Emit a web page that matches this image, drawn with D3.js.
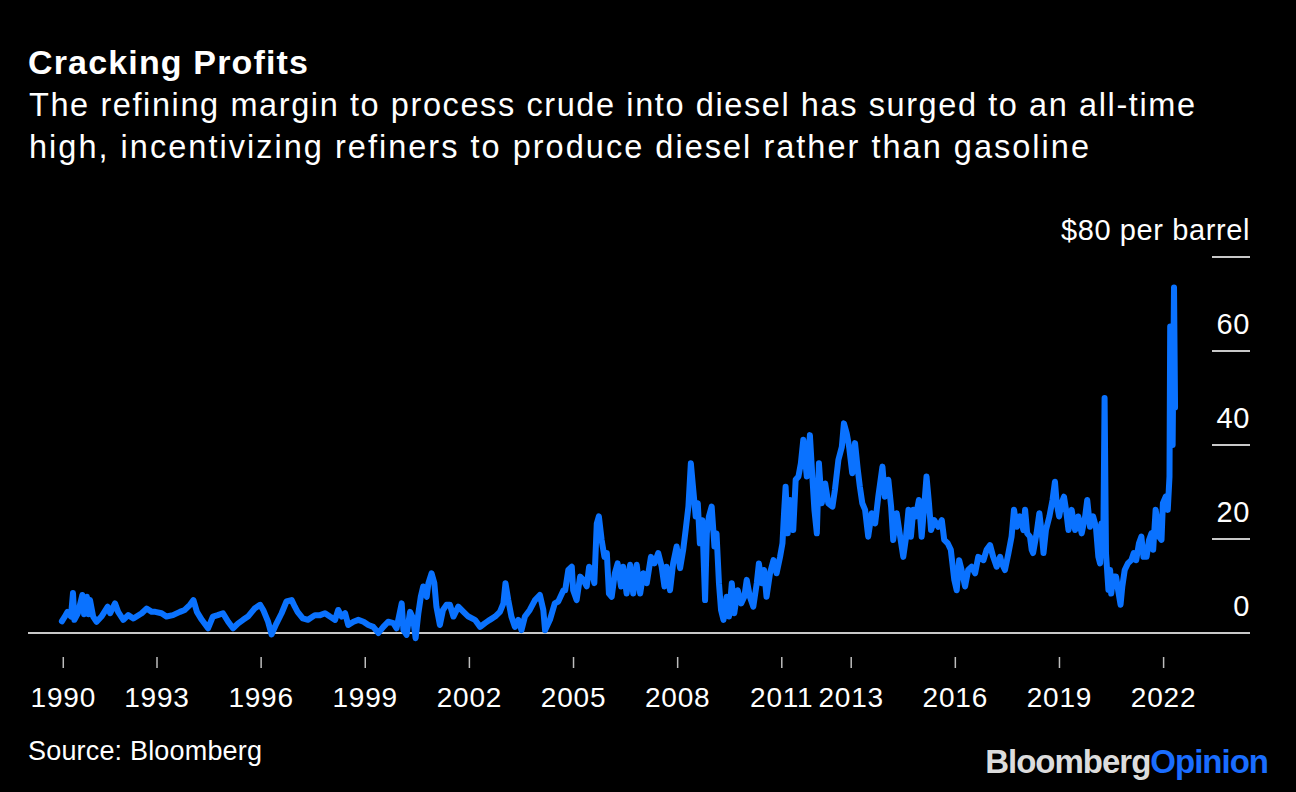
<!DOCTYPE html>
<html>
<head>
<meta charset="utf-8">
<script src="https://cdn.jsdelivr.net/npm/d3@7"></script>
<style>
  html, body { margin: 0; padding: 0; background: #000; }
  svg { display: block; }
  text { font-family: "Liberation Sans", Arial, Helvetica, sans-serif; fill: #fff; }
</style>
</head>
<body>
<svg id="chart" width="1296" height="792"></svg>
<script>
// ---- Data (decimal year, $ per barrel) ----
const t1990s = [1990.26,1990.33,1990.42,1990.52,1990.58,1990.62,1990.72,1990.85,1990.90,1990.98,1991.03,1991.07,1991.16,1991.26,1991.40,1991.58,1991.65,1991.79,1991.88,1992.03,1992.17,1992.32,1992.56,1992.70,1992.85,1992.95,1993.13,1993.27,1993.46,1993.66,1993.80,1993.95,1994.05,1994.15,1994.29,1994.47,1994.61,1994.75,1994.90,1995.05,1995.19,1995.33,1995.48,1995.62,1995.81,1995.97,1996.06,1996.20,1996.30,1996.44,1996.59,1996.73,1996.88,1996.97,1997.05,1997.20,1997.35,1997.55,1997.70,1997.84,1997.98,1998.13,1998.22,1998.32,1998.42,1998.51,1998.66,1998.80,1998.95,1999.09,1999.23,1999.38,1999.52,1999.66,1999.81,1999.90];
const v1990s = [2.5,3.3,4.5,3.5,8.5,2.8,4.2,8.1,4.0,7.7,4.0,7.0,3.5,2.4,3.5,5.6,4.2,6.3,4.5,2.8,3.8,3.1,4.2,5.2,4.5,4.5,4.2,3.5,3.8,4.5,4.9,6.0,7.0,4.5,2.8,1.0,3.5,3.8,4.2,2.4,1.0,2.0,2.8,3.5,5.2,6.0,4.9,2.4,-0.3,2.0,4.2,6.7,7.0,5.6,4.5,3.1,2.8,3.8,3.8,4.2,3.5,2.8,4.9,3.5,4.2,1.7,2.4,2.8,2.4,1.7,1.3,0.0,1.3,2.4,2.1,1.0];

const t2000s = [2000.05,2000.10,2000.19,2000.29,2000.38,2000.45,2000.53,2000.60,2000.67,2000.77,2000.82,2000.91,2000.99,2001.05,2001.15,2001.24,2001.34,2001.44,2001.54,2001.68,2001.83,2001.97,2002.16,2002.31,2002.45,2002.59,2002.74,2002.88,2002.98,2003.04,2003.12,2003.21,2003.31,2003.41,2003.50,2003.60,2003.74,2003.89,2004.03,2004.13,2004.18,2004.32,2004.46,2004.56,2004.71,2004.76,2004.85,2004.95,2004.99,2005.09,2005.19,2005.28,2005.38,2005.45,2005.52,2005.60,2005.67,2005.73,2005.81,2005.89,2005.96,2006.02,2006.10,2006.19,2006.27,2006.37,2006.43,2006.53,2006.63,2006.72,2006.82,2006.92,2007.01,2007.11,2007.23,2007.33,2007.44,2007.54,2007.62,2007.68,2007.78,2007.87,2007.97,2008.07,2008.16,2008.23,2008.31,2008.38,2008.45,2008.52,2008.58,2008.64,2008.71,2008.79,2008.84,2008.90,2008.98,2009.06,2009.12,2009.19,2009.25,2009.32,2009.41,2009.48,2009.56,2009.63,2009.73,2009.83,2009.92,2009.99];
const v2000s = [6.3,0.6,-0.4,4.5,3.1,-1.1,4.2,7.7,9.9,7.7,10.6,12.7,10.6,5.6,1.7,4.9,6.0,6.0,3.5,5.6,4.5,3.5,2.8,1.3,2.1,2.8,3.5,4.5,6.3,10.6,7.0,3.5,1.3,2.8,0.6,3.5,4.9,7.0,8.1,4.9,0.6,2.8,6.3,6.7,9.1,9.1,13.4,14.1,9.1,7.0,12.0,11.3,9.9,14.1,13.4,10.6,23.3,24.8,19.8,16.2,17.0,8.4,7.7,12.7,14.8,9.9,14.1,8.4,14.5,8.4,14.5,8.4,12.7,10.6,16.2,14.8,17.0,14.1,9.9,14.1,9.1,14.8,18.4,13.8,17.7,21.9,26.9,36.1,30.4,24.8,27.6,19.1,24.0,7.0,21.2,24.8,26.9,18.4,21.2,10.6,4.9,2.8,7.7,3.5,10.6,4.2,9.1,6.3,7.7,11.3];

const t2010s = [2010.08,2010.18,2010.28,2010.34,2010.42,2010.49,2010.56,2010.66,2010.76,2010.85,2010.95,2011.02,2011.07,2011.11,2011.17,2011.24,2011.33,2011.40,2011.48,2011.55,2011.62,2011.72,2011.81,2011.88,2011.94,2012.01,2012.07,2012.15,2012.25,2012.34,2012.46,2012.53,2012.63,2012.73,2012.79,2012.87,2012.94,2013.03,2013.11,2013.19,2013.25,2013.32,2013.40,2013.49,2013.59,2013.69,2013.78,2013.90,2013.97,2014.07,2014.15,2014.21,2014.31,2014.41,2014.50,2014.57,2014.65,2014.72,2014.79,2014.86,2014.95,2015.03,2015.11,2015.17,2015.24,2015.30,2015.39,2015.51,2015.61,2015.68,2015.78,2015.87,2015.97,2016.04,2016.11,2016.18,2016.28,2016.37,2016.47,2016.57,2016.66,2016.81,2016.90,2017.00,2017.09,2017.19,2017.29,2017.34,2017.43,2017.53,2017.62,2017.69,2017.77,2017.86,2017.96,2018.01,2018.07,2018.15,2018.20,2018.24,2018.34,2018.42,2018.49,2018.54,2018.61,2018.71,2018.80,2018.87,2018.92,2018.99,2019.06,2019.13,2019.19,2019.26,2019.35,2019.45,2019.54,2019.64,2019.74,2019.80,2019.88,2019.97];
const v2010s = [7.7,5.6,10.6,14.8,10.6,13.4,7.7,12.7,15.5,12.7,16.2,19.1,26.2,31.1,21.2,28.3,21.9,32.6,33.3,36.1,41.1,33.3,42.1,33.3,26.2,21.2,36.1,27.6,31.8,27.6,26.9,30.4,36.8,39.6,44.6,42.5,39.6,34.0,40.4,34.7,31.1,27.6,26.2,20.5,25.5,23.3,29.0,35.4,29.0,32.6,26.9,19.8,25.5,20.5,16.2,19.8,26.2,20.5,26.2,24.8,28.3,20.5,27.6,33.3,27.6,21.9,24.0,22.6,24.0,19.8,19.1,17.7,11.3,9.1,15.5,13.4,9.9,13.4,14.1,12.7,16.2,15.5,17.7,18.7,16.2,14.1,16.2,14.8,13.4,17.0,20.5,26.2,22.6,24.8,21.9,26.2,21.2,20.5,17.7,17.0,21.2,25.5,21.2,17.0,21.9,24.8,28.3,32.2,27.6,24.8,27.6,29.0,26.2,21.9,26.2,21.9,24.8,21.2,24.8,28.3,22.6,24.8];

const t2020s = [2020.05,2020.12,2020.17,2020.21,2020.26,2020.30,2020.34,2020.41,2020.46,2020.49,2020.55,2020.63,2020.69,2020.76,2020.81,2020.88,2020.97,2021.07,2021.14,2021.21,2021.29,2021.36,2021.42,2021.51,2021.58,2021.65,2021.70,2021.77,2021.82,2021.87,2021.94,2021.98,2022.06,2022.12,2022.17,2022.19,2022.23,2022.26,2022.30,2022.33];
const v2020s = [22.6,16.2,14.8,23.3,17.0,50.0,17.0,9.2,13.4,8.4,12.0,12.0,9.1,6.0,9.9,13.4,14.8,15.5,17.0,15.5,19.1,20.5,16.2,16.2,19.8,21.2,17.7,26.2,24.0,20.5,19.8,27.6,29.0,26.2,33.3,65.2,64.5,40.0,73.5,48.0];

const dates = [...t1990s, ...t2000s, ...t2010s, ...t2020s];
const margin = [...v1990s, ...v2000s, ...v2010s, ...v2020s];

const xTickValues = [1990.30, 1993, 1996, 1999, 2002, 2005, 2008, 2011, 2013, 2016, 2019, 2022];
const xTickLabels = ["1990","1993","1996","1999","2002","2005","2008","2011","2013","2016","2019","2022"];
const yTickValues = [0, 20, 40, 60, 80];
const yTickLabels = ["0", "20", "40", "60", "$80 per barrel"];

const title = "Cracking Profits";
const subtitle = ["The refining margin to process crude into diesel has surged to an all-time",
                  "high, incentivizing refiners to produce diesel rather than gasoline"];
const source = "Source: Bloomberg";

// ---- Drawing ----
const svg = d3.select("#chart");
svg.append("rect").attr("width", 1296).attr("height", 792).attr("fill", "#000");

const x = d3.scaleLinear().domain([1993, 2022]).range([157, 1163.6]);
const y = d3.scaleLinear().domain([0, 80]).range([633, 257]);

// Title block
svg.append("text").attr("x", 28).attr("y", 74)
  .style("font-weight", "bold").style("font-size", "34px")
  .attr("textLength", 280).attr("lengthAdjust", "spacing").text(title);
const subLens = [1166, 1060];
subtitle.forEach((s, i) => {
  svg.append("text").attr("x", 29).attr("y", 116 + i * 42)
    .style("font-size", "32.5px")
    .attr("textLength", subLens[i]).attr("lengthAdjust", "spacing").text(s);
});

// Y gridlines (short segments at right) + labels
const gridX0 = 1212, gridX1 = 1250;
const yg = svg.append("g");
yg.selectAll("line.grid").data(yTickValues.filter(d => d !== 0)).join("line")
  .attr("class", "grid")
  .attr("x1", gridX0).attr("x2", gridX1)
  .attr("y1", d => y(d)).attr("y2", d => y(d))
  .attr("stroke", "#c8c8c8").attr("stroke-width", 2);
yg.selectAll("text").data(yTickValues).join("text")
  .attr("x", gridX1).attr("y", d => y(d) - 17)
  .attr("text-anchor", "end")
  .style("font-size", "29px").style("letter-spacing", "0.6px")
  .text((d, i) => yTickLabels[i]);

// Zero baseline
svg.append("line")
  .attr("x1", 28).attr("x2", gridX1)
  .attr("y1", y(0)).attr("y2", y(0))
  .attr("stroke", "#c8c8c8").attr("stroke-width", 2);

// X axis ticks + labels
const xg = svg.append("g");
xg.selectAll("line").data(xTickValues).join("line")
  .attr("x1", d => x(d)).attr("x2", d => x(d))
  .attr("y1", 657).attr("y2", 668)
  .attr("stroke", "#bdbdbd").attr("stroke-width", 1.5);
xg.selectAll("text").data(xTickValues).join("text")
  .attr("x", d => x(d)).attr("y", 707)
  .attr("text-anchor", "middle")
  .style("font-size", "28px").style("letter-spacing", "0.8px")
  .text((d, i) => xTickLabels[i]);

// Line
const pts = dates.map((d, i) => [d, margin[i]]);
const line = d3.line().x(d => x(d[0])).y(d => y(d[1]));
svg.append("path").datum(pts)
  .attr("d", line)
  .attr("fill", "none")
  .attr("stroke", "#0a72ff")
  .attr("stroke-width", 6)
  .attr("stroke-linejoin", "round")
  .attr("stroke-linecap", "round");

// Footer
svg.append("text").attr("x", 28).attr("y", 760)
  .style("font-size", "27px")
  .attr("textLength", 234).attr("lengthAdjust", "spacing").text(source);

const logo = svg.append("text").attr("x", 1268).attr("y", 773)
  .attr("text-anchor", "end")
  .style("font-weight", "bold").style("font-size", "33px").style("letter-spacing", "-1px");
logo.append("tspan").style("fill", "#dcdcdc").text("Bloomberg");
logo.append("tspan").style("fill", "#1a6dff").text("Opinion");
</script>
</body>
</html>
